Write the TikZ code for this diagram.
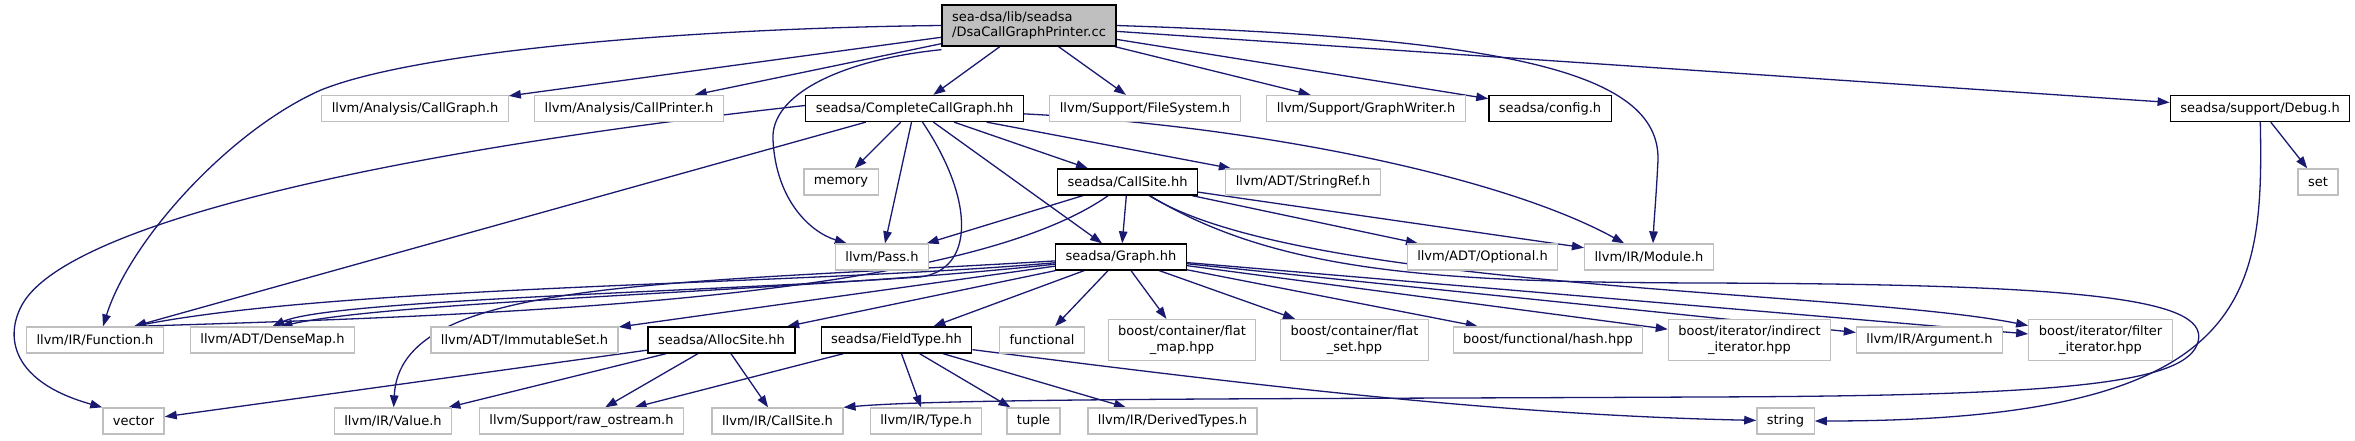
\documentclass[tikz,border=0pt]{standalone}
\usepackage{fontspec}
\setmainfont{DejaVu Sans}
\usepackage{tikz}
\usetikzlibrary{arrows.meta,positioning,backgrounds}
\definecolor{dxEdge}{RGB}{ 25, 25,112}
\definecolor{dxGrey}{RGB}{191,191,191}
\definecolor{dxInk} {RGB}{  0,  0,  0}

\begin{document}
\begin{tikzpicture}[
  x=1pt,y=-1pt,
  font=\fontsize{13}{15.5}\selectfont,
  ext/.style={rectangle,draw=dxGrey,line width=1.3pt,fill=white,
              minimum height=26pt,inner xsep=10pt,inner ysep=2pt},
  ext2/.style={ext,align=center,minimum height=41pt},
  own/.style={ext,draw=dxInk},
  src/.style={ext,draw=dxInk,fill=dxGrey,align=left,minimum height=41pt},
  dep/.style={draw=dxEdge,line width=1.3pt,
              -{Triangle[length=12pt,width=8.5pt]}}
]
\def\rA{25.5}
\def\rB{108.5}
\def\rC{182}
\def\rD{257}
\def\rE{340}
\def\rF{421}
\useasboundingbox (0,0) rectangle (2355,440);

% --- source file
\node[src] (root) at (1029,\rA) {sea-dsa/lib/seadsa\\/DsaCallGraphPrinter.cc};

% --- first level
\node[ext] (cgraph) at (415,\rB)  {llvm/Analysis/CallGraph.h};
\node[ext] (cprint) at (629,\rB)  {llvm/Analysis/CallPrinter.h};
\node[own] (ccg)    at (914.5,\rB) {seadsa/CompleteCallGraph.hh};
\node[ext] (fsys)   at (1145,\rB) {llvm/Support/FileSystem.h};
\node[ext] (gwrite) at (1366,\rB) {llvm/Support/GraphWriter.h};
\node[own] (config) at (1550,\rB) {seadsa/config.h};
\node[own] (debug)  at (2260,\rB) {seadsa/support/Debug.h};

\node[ext] (memory) at (841,\rC)    {memory};
\node[own] (cs)     at (1127.5,\rC) {seadsa/CallSite.hh};
\node[ext] (sref)   at (1303,\rC)   {llvm/ADT/StringRef.h};
\node[ext] (set)    at (2318,\rC)   {set};

\node[ext] (pass)     at (882,\rD)    {llvm/Pass.h};
\node[own] (graph)    at (1121,\rD)   {seadsa/Graph.hh};
\node[ext] (optional) at (1482.5,\rD) {llvm/ADT/Optional.h};
\node[ext] (module)   at (1649,\rD)   {llvm/IR/Module.h};

% --- headers of Graph.hh
\node[ext]  (fn)     at (95,\rE)     {llvm/IR/Function.h};
\node[ext]  (dm)     at (272.5,\rE)  {llvm/ADT/DenseMap.h};
\node[ext]  (imm)    at (524.5,\rE)  {llvm/ADT/ImmutableSet.h};
\node[own]  (alloc)  at (721.5,\rE)  {seadsa/AllocSite.hh};
\node[own]  (ftype)  at (896.5,\rE)  {seadsa/FieldType.hh};
\node[ext]  (func)   at (1042,\rE)   {functional};
\node[ext2] (fmap)   at (1182,\rE)   {boost/container/flat\\\_map.hpp};
\node[ext2] (fset)   at (1354.5,\rE) {boost/container/flat\\\_set.hpp};
\node[ext]  (fhash)  at (1548,\rE)   {boost/functional/hash.hpp};
\node[ext2] (indir)  at (1749.5,\rE) {boost/iterator/indirect\\\_iterator.hpp};
\node[ext]  (arg)    at (1929.5,\rE) {llvm/IR/Argument.h};
\node[ext2] (filter) at (2100.5,\rE) {boost/iterator/filter\\\_iterator.hpp};

\node[ext] (vector) at (133.5,\rF)  {vector};
\node[ext] (value)  at (393,\rF)    {llvm/IR/Value.h};
\node[ext] (rawos)  at (581.5,\rF)  {llvm/Support/raw\_ostream.h};
\node[ext] (irc)    at (777.5,\rF)  {llvm/IR/CallSite.h};
\node[ext] (type)   at (926,\rF)    {llvm/IR/Type.h};
\node[ext] (tuple)  at (1033.5,\rF) {tuple};
\node[ext] (dtypes) at (1172.5,\rF) {llvm/IR/DerivedTypes.h};
\node[ext] (string) at (1785.5,\rF) {string};

\begin{scope}[on background layer]
% --- includes of the source file
\draw[dep] (root.west) .. controls (700,28) and (420,50) .. (321,90)
           .. controls (230,130) and (130,240) .. ([xshift=8pt]fn.north);
\draw[dep] (root) -- (cgraph);
\draw[dep] (root) -- (cprint);
\draw[dep] (root) -- (ccg);
\draw[dep] ([yshift=-3pt]root.south west) .. controls (840,60) and (770,95) .. (773,140)
           .. controls (776,200) and (810,232) .. ([xshift=12pt]pass.north west);
\draw[dep] (root) -- (fsys);
\draw[dep] (root) -- (gwrite);
\draw[dep] (root) -- (config);
\draw[dep] (root.east) .. controls (1500,38) and (1660,70) .. (1658,160)
           .. controls (1656,200) and (1654,220) .. ([xshift=4pt]module.north);
\draw[dep] (root) -- (debug);

% --- CompleteCallGraph.hh
\draw[dep] ([yshift=3pt]ccg.west) .. controls (400,150) and (80,220) .. (25,300)
           .. controls (5,330) and (5,380) .. (vector.north west);
\draw[dep] (ccg) -- ([xshift=39pt]fn.north);
\draw[dep] (ccg) -- (memory);
\draw[dep] (ccg) -- (pass);
\draw[dep] ([xshift=8pt]ccg.south) .. controls (975,200) and (975,270) .. (920,277)
           .. controls (700,292) and (330,300) .. (dm.north);
\draw[dep] (ccg) -- (graph);
\draw[dep] (ccg) -- (cs);
\draw[dep] (ccg) -- (sref);
\draw[dep] (ccg) .. controls (1250,125) and (1500,175) .. (module);

% --- CallSite.hh
\draw[dep] (cs) -- (pass);
\draw[dep] (cs) .. controls (960,300) and (500,315) .. ([xshift=39pt]fn.north);
\draw[dep] (cs) -- (graph);
\draw[dep] (cs) -- (optional);
\draw[dep] (cs) -- (module);
\draw[dep] (cs) .. controls (1300,290) and (1850,290) .. (filter);
\draw[dep] (cs) .. controls (1280,275) and (1450,282) .. (1700,283)
           .. controls (2100,284) and (2215,300) .. (2197,345)
           .. controls (2180,385) and (2050,396) .. (1700,397)
           .. controls (1300,399) and (950,398) .. (irc.north east);

% --- Graph.hh
\draw[dep] (graph) .. controls (800,285) and (350,285) .. ([xshift=39pt]fn.north);
\draw[dep] (graph) .. controls (800,292) and (400,300) .. ([xshift=8pt]dm.north);
\draw[dep] (graph) -- (imm);
\draw[dep] (graph) -- (alloc);
\draw[dep] (graph) -- (ftype);
\draw[dep] (graph) .. controls (650,285) and (400,280) .. (value);
\draw[dep] (graph) -- (func);
\draw[dep] (graph) -- (fmap);
\draw[dep] (graph) -- (fset);
\draw[dep] (graph) -- (fhash);
\draw[dep] (graph) -- (indir);
\draw[dep] (graph) -- (arg);
\draw[dep] (graph) -- (filter);

% --- AllocSite.hh and FieldType.hh
\draw[dep] (alloc) -- (vector);
\draw[dep] (alloc) -- (value);
\draw[dep] (alloc) -- (rawos);
\draw[dep] (alloc) -- (irc);
\draw[dep] (ftype) -- (rawos);
\draw[dep] (ftype) -- (type);
\draw[dep] (ftype) -- (tuple);
\draw[dep] (ftype) -- (dtypes);
\draw[dep] (ftype) .. controls (1250,385) and (1500,415) .. (string);

% --- Debug.h
\draw[dep] (debug) -- (set);
\draw[dep] (debug) .. controls (2264,300) and (2250,421) .. (string);
\end{scope}
\end{tikzpicture}
\end{document}
